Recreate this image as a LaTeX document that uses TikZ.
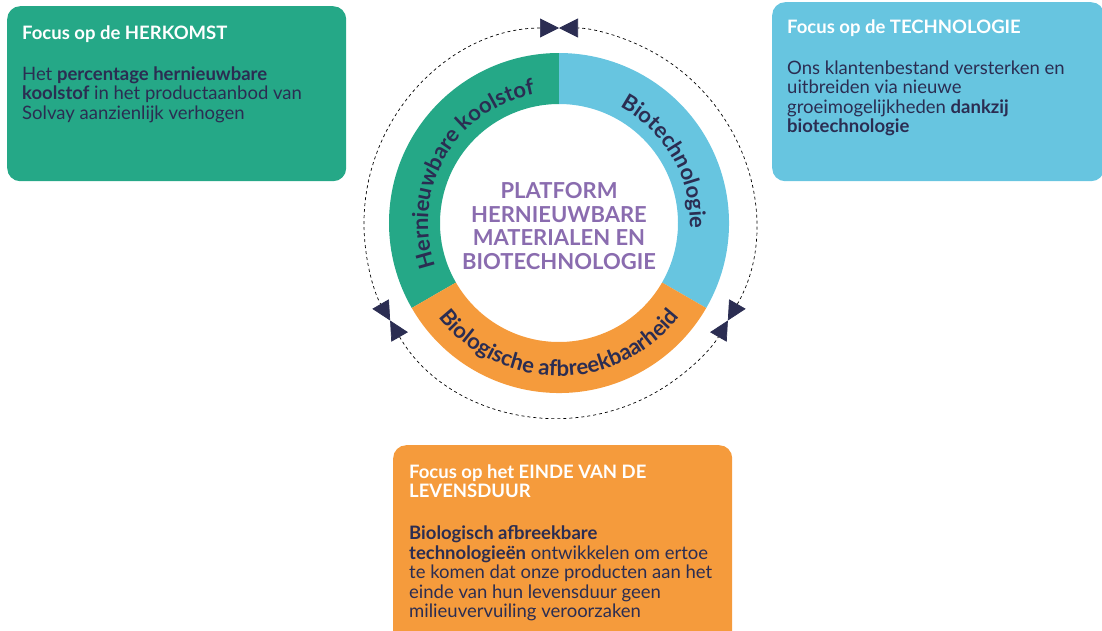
\documentclass[tikz,border=0pt]{standalone}
\usepackage{fontspec}
\setmainfont{Lato}
\usetikzlibrary{arrows.meta,decorations.text}
\definecolor{groen}{HTML}{25A887}
\definecolor{blauw}{HTML}{67C5E0}
\definecolor{oranje}{HTML}{F59B3C}
\definecolor{navy}{HTML}{2B2D52}
\definecolor{paars}{HTML}{8A6CAF}
\newcommand{\ringfont}{\bfseries\fontsize{22}{22}\selectfont}

\begin{document}
\begin{tikzpicture}[x=1pt,y=1pt,
		box/.style={rounded corners=13pt, inner sep=0pt, anchor=north west},
		regels/.style={anchor=north west, yshift=13.65pt, inner sep=0pt, align=left, execute at begin node=\strut},
		kop/.style={regels, text=white, font=\bfseries\fontsize{18.5}{19.5}\selectfont},
		tekst/.style={regels, text=navy, font=\fontsize{18.5}{19.5}\selectfont},
		pijl/.style={dash pattern=on 3pt off 3pt, line width=0.7pt, {Triangle[length=19pt,width=19pt,color=navy]}-{Triangle[length=19pt,width=19pt,color=navy]}},
		ringtekst/.style={decorate, decoration={text along path, text align=center, text color=navy, text={|\ringfont|#1}}}]
		\useasboundingbox (-559,-407) rectangle (543,223);
		\clip (-559,-407) rectangle (543,223);
		\coordinate (m) at (0,0);
		\foreach \van/\tot/\kleur in {90/210/groen, -30/90/blauw, 210/330/oranje}
			\fill[\kleur] (\van:170) arc[start angle=\van, end angle=\tot, radius=170] -- (\tot:119) arc[start angle=\tot, end angle=\van, radius=119] -- cycle;
		\foreach \van/\tot in {90/210, 210/330, 330/450}
			\draw[pijl] (\van:195) arc[start angle=\van, end angle=\tot, radius=195];
		\path[ringtekst=Hernieuwbare koolstof] (210:131) arc[start angle=210, end angle=90, radius=131];
		\path[ringtekst=Biotechnologie] (90:131) arc[start angle=90, end angle=-30, radius=131];
		\path[ringtekst=Biologische afbreekbaarheid] (210:153) arc[start angle=210, end angle=330, radius=153];
		\node[text=paars, font=\bfseries\fontsize{22}{23.5}\selectfont, align=center] (platform) at ([yshift=-3pt]m) {PLATFORM\\HERNIEUWBARE\\MATERIALEN EN\\BIOTECHNOLOGIE};
		\node[box, fill=groen, minimum width=339pt, minimum height=175pt] (herkomst) at (-552,217) {};
		\node[box, fill=blauw, minimum width=332pt, minimum height=179pt] (technologie) at (213,221) {};
		\node[box, fill=oranje, minimum width=339pt, minimum height=200pt] (einde) at (-166,-222) {};
		\node[kop] (herkomstkop) at ([shift={(15,-33)}]herkomst.north west) {Focus op de HERKOMST};
		\node[tekst] (herkomsttekst) at ([shift={(15,-74)}]herkomst.north west) {Het \textbf{percentage hernieuwbare}\\\textbf{koolstof} in het productaanbod van\\Solvay aanzienlijk verhogen};
		\node[kop] (technologiekop) at ([shift={(15,-31)}]technologie.north west) {Focus op de TECHNOLOGIE};
		\node[tekst] (technologietekst) at ([shift={(15,-72)}]technologie.north west) {Ons klantenbestand versterken en\\uitbreiden via nieuwe\\groeimogelijkheden \textbf{dankzij}\\\textbf{biotechnologie}};
		\node[kop] (eindekop) at ([shift={(16,-33)}]einde.north west) {Focus op het EINDE VAN DE\\LEVENSDUUR};
		\node[tekst] (eindetekst) at ([shift={(16,-94)}]einde.north west) {\textbf{Biologisch afbreekbare}\\\textbf{technologieën} ontwikkelen om ertoe\\te komen dat onze producten aan het\\einde van hun levensduur geen\\milieuvervuiling veroorzaken};
	\end{tikzpicture}
\end{document}
